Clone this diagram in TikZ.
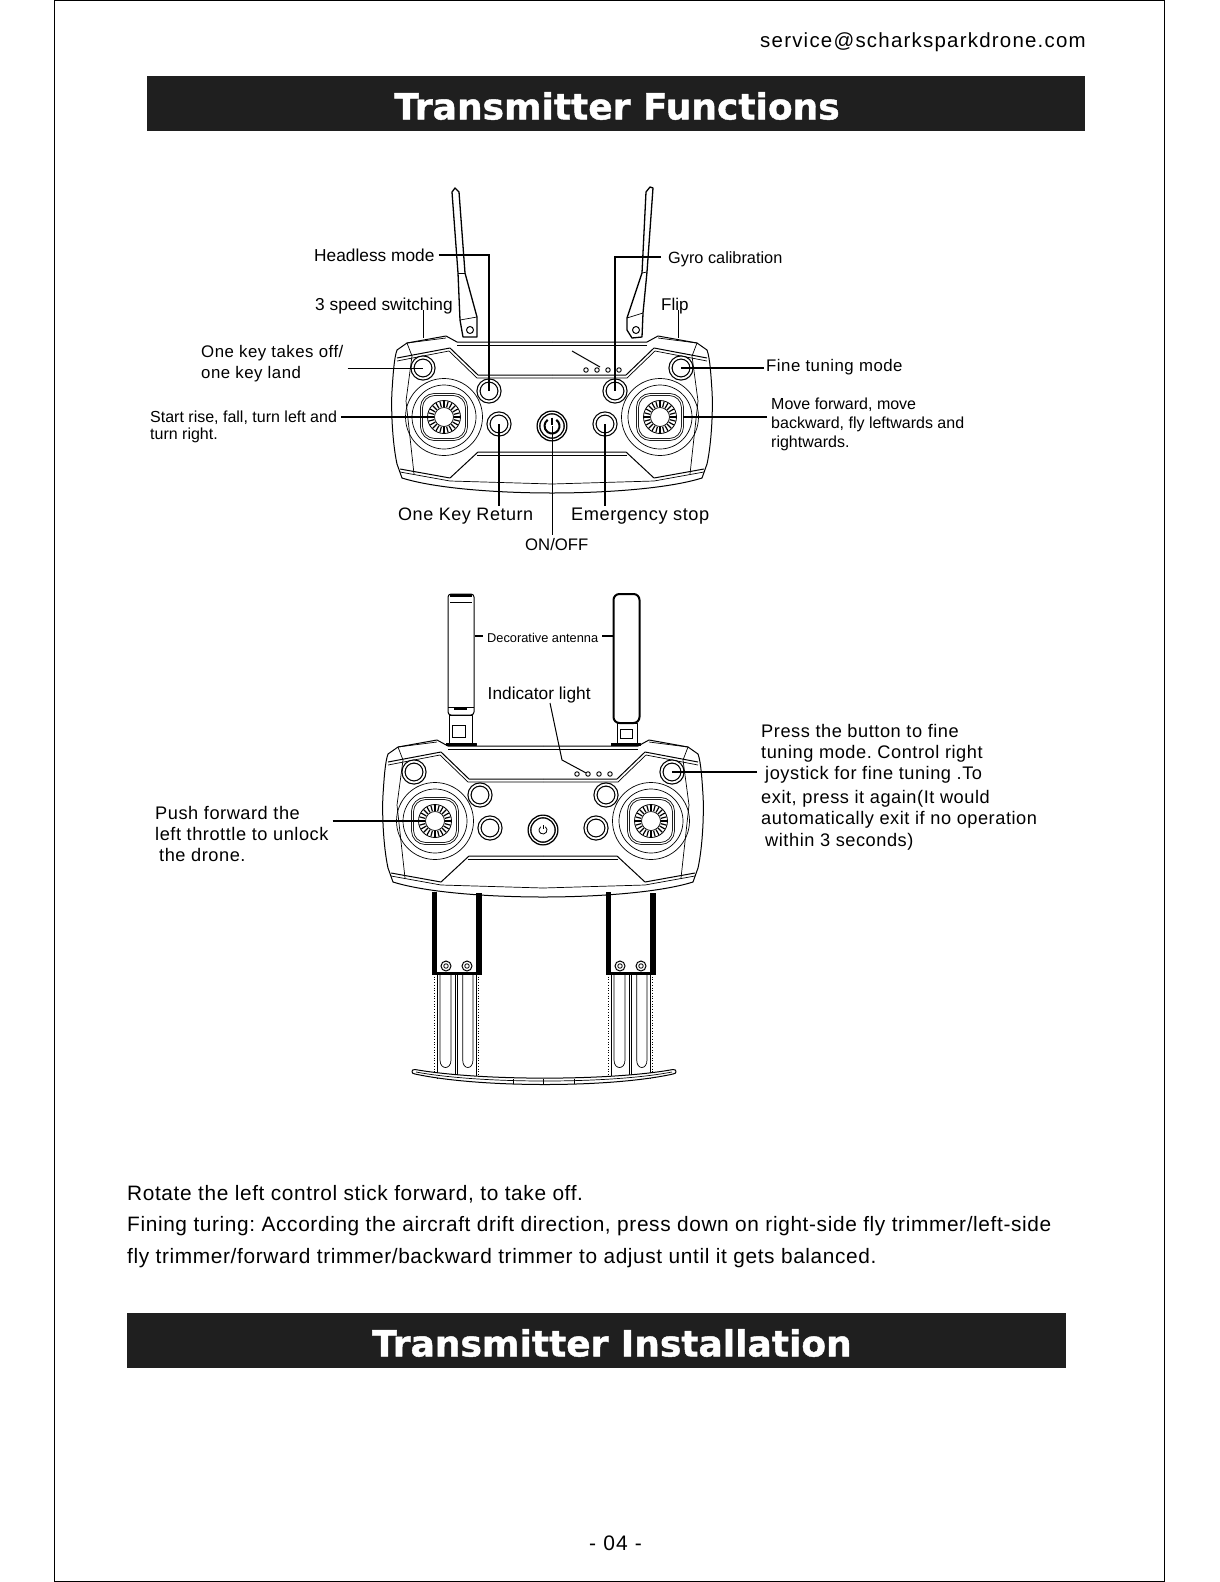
\documentclass[tikz,border=0pt]{standalone}
\usepackage{fontspec}
\setmainfont{Liberation Sans}
\newfontfamily\titlefont[FakeBold=1.2]{DejaVu Sans Bold}
\newfontfamily\wfont[LetterSpace=3]{Liberation Sans}
\newfontfamily\wwfont[LetterSpace=6]{Liberation Sans}
\tikzset{
    shell/.style={line width=1pt, line join=round},
    thinline/.style={line width=0.7pt},
    lead/.style={line width=1.6pt},
    thinlead/.style={line width=0.8pt},
    titlebar/.style={fill=black!88, minimum height=55pt},
    titletext/.style={text=white, font=\titlefont\fontsize{36}{40}\selectfont},
    lbl/.style={anchor=west, inner sep=0pt, inner xsep=4pt},
    oneline/.style={lbl, text height=12pt, text depth=0pt, inner ysep=3pt},
    mline/.style={lbl, align=left},
    txbtn/.style={circle, draw, inner sep=0pt, minimum size=21pt, line width=1.2pt, double, double distance=1.8pt},
    pwrbtn/.style={circle, draw, inner sep=0pt, minimum size=27pt, line width=1.4pt, double, double distance=1.2pt},
    led/.style={circle, draw, inner sep=0pt, minimum size=4.5pt, line width=0.9pt},
    ring/.style={circle, draw, inner sep=0pt, line width=0.7pt},
    stickbox/.style={draw, inner sep=0pt, minimum size=45pt, rounded corners=13pt, line width=0.8pt, double, double distance=1.2pt},
    gearhub/.style={circle, draw, inner sep=0pt, minimum size=33pt, line width=0.8pt},
}
\begin{document}
\frenchspacing
\begin{tikzpicture}[x=1pt, y=-1pt]
    \useasboundingbox (0,0) rectangle (1219,1582);
    \fill[white] (0,0) rectangle (1219,1582);
    \draw[line width=1pt] (54,0.5) -- (54,1581) -- (1164,1581) -- (1164,0.5) -- cycle;

    % Header and title bars
    \node[lbl, font=\wwfont\fontsize{20.45}{24}\selectfont] (mail) at (756,42) {service@scharksparkdrone.com};
    \node[titlebar, minimum width=938pt] (bartop) at (616,103.5) {};
    \node[titletext] (titletop) at (617,106) {Transmitter Functions};
    \node[titlebar, minimum width=939pt] (barlow) at (596.5,1340) {};
    \node[titletext] (titlelow) at (612,1343) {Transmitter Installation};

    % Both transmitter bodies
    \foreach \cx/\cy/\n/\pr/\pw in {552/426/a/7.5/2,543/830/b/4/0.8} {
        \begin{scope}[shift={(\cx,\cy)}]
            \foreach \s/\d in {1/l,-1/r} {
                \begin{scope}[xscale=\s]
                    % Shell
                    \draw[shell] (0,67) .. controls (-50,67) and (-115,63) .. (-150,52) -- (-155,38) .. controls (-160,15) and (-161,-20) .. (-160,-35) .. controls (-159,-50) and (-158,-68) .. (-155,-76) -- (-145,-83) -- (-106,-90) -- (-95,-84) -- (0,-84);
                    \draw[thinline] (-95,-81) -- (0,-81);
                    \draw[thinline] (-145,-83) -- (-106,-88);
                    \draw[thinline] (-145,-83) -- (-140,-70) -- (-146,-25) -- (-138,48);
                    % Face plate
                    \draw[shell] (-155,-68) -- (-102,-78) -- (-74,-51) -- (0,-51);
                    \draw[thinline] (-155,-65) -- (-103,-75) -- (-75,-48) -- (0,-48);
                    \draw[shell] (-152,43) -- (-102,52) -- (-74,26) -- (0,26);
                    \draw[thinline] (-152,46) -- (-102,55) -- (0,58);
                    \draw[thinline] (-75,29) -- (0,29);
                    % Stick
                    \node[ring, minimum size=77pt] (\n outer\d) at (-108,-9) {};
                    \node[ring, minimum size=64pt] (\n inner\d) at (-108,-9) {};
                    \node[stickbox, fill=white] (\n stick\d) at (-108,-9) {};
                    \node[gearhub] (\n gear\d) at (-108,-9) {};
                    \node[ring, minimum size=19pt] (\n hub\d) at (-108,-9) {};
                    \foreach \a in {0,15,...,345} {
                        \draw[line width=1.2pt] (-108,-9) ++(\a:10) -- ++(\a:6);
                    }
                    % Buttons
                    \node[txbtn] (\n corner\d) at (-129,-58) {};
                    \node[txbtn] (\n upper\d) at (-63,-35) {};
                    \node[txbtn] (\n lower\d) at (-53,-2) {};
                \end{scope}
            }
            \coordinate (\n trigl) at (-129,-88);
            \coordinate (\n trigr) at (126,-88);
            \foreach \i/\x in {1/34,2/45,3/56,4/67} {
                \node[led] (\n led\i) at (\x,-56) {};
            }
            % Power button
            \node[pwrbtn] (\n power) at (0,0) {};
            \draw[line width=\pw pt] ([shift={(-55:\pr)}]\n power.center) arc[start angle=-55, end angle=235, radius=\pr];
            \draw[line width=\pw pt] (0,-\pr-1) -- (0,-1);
        \end{scope}
    }
    \draw[line width=1pt] (572,351) -- (600,367);

    % Folded out antennas
    \draw[shell, line width=1.3pt] (463,337) -- (460,320) -- (458,273) -- (452,192) -- (455,188) -- (459,192) -- (465,273) -- (477,317) -- (477,337) -- cycle;
    \draw[thinline] (458,273) -- (465,273);
    \draw[thinline] (460,320) -- (477,317);
    \node[ring, minimum size=7pt, line width=1pt] (screwl) at (470,330) {};
    \draw[shell, line width=1.3pt] (632,338) -- (627,330) -- (627,318) -- (642,273) -- (646,192) -- (650,187) -- (653,188) -- (647,272) -- (643,313) -- (642,337) -- cycle;
    \draw[thinline] (642,273) -- (647,272);
    \draw[thinline] (627,318) -- (643,313);
    \node[ring, minimum size=7pt, line width=1pt] (screwr) at (636,330) {};

    % Labels of the upper picture
    \node[oneline, font=\fontsize{17.3}{20}\selectfont] (headless) at (310,255) {Headless mode};
    \node[oneline, font=\fontsize{16.3}{20}\selectfont, inner xsep=7pt] (gyro) at (661,257) {Gyro calibration};
    \node[oneline, font=\fontsize{17.3}{20}\selectfont, inner sep=0pt] (speed) at (315,304) {3 speed switching};
    \node[oneline, font=\fontsize{17}{20}\selectfont, inner sep=0pt] (flip) at (661,304) {Flip};
    \node[mline, font=\wfont\fontsize{16.8}{20.7}\selectfont] (takeoff) at (197,363.5) {One key takes off/\\one key land};
    \node[mline, font=\fontsize{16}{16.7}\selectfont] (startrise) at (146,427) {Start rise, fall, turn left and\\turn right.};
    \node[oneline, font=\wfont\fontsize{16.8}{20}\selectfont, inner xsep=2pt] (fine) at (764,365) {Fine tuning mode};
    \node[mline, font=\fontsize{16}{19}\selectfont] (moveon) at (767,424.5) {Move forward, move\\backward, fly leftwards and\\rightwards.};
    \node[oneline, font=\wfont\fontsize{18}{20}\selectfont, inner ysep=2pt, inner xsep=0pt] (goback) at (398,514) {One Key Return};
    \node[oneline, font=\wfont\fontsize{18.2}{20}\selectfont, inner ysep=2pt, inner xsep=0pt] (estop) at (571,514) {Emergency stop};
    \node[oneline, font=\fontsize{16.7}{20}\selectfont, inner ysep=3pt, inner xsep=0pt] (onoff) at (525,544) {ON/OFF};

    % Connections of the upper picture
    \draw[lead] (headless.east) -| (aupperl.center);
    \draw[lead] (gyro.west) -| (aupperr.center);
    \draw[thinlead] (speed.south -| atrigl) -- (atrigl);
    \draw[thinlead] (flip.south -| atrigr) -- (atrigr);
    \draw[thinlead] (takeoff.east |- acornerl.center) -- (acornerl.center);
    \draw[lead] (startrise.east |- agearl.west) -- (agearl.west);
    \draw[lead] (fine.west |- acornerr.center) -- (acornerr.center);
    \draw[lead] (moveon.west |- astickr.east) -- (astickr.east);
    \draw[lead] (alowerl.center) -- (alowerl.center |- goback.north);
    \draw[lead] (alowerr.center) -- (alowerr.center |- estop.north);
    \draw[thinlead] (apower.center) -- (apower.center |- onoff.north);

    % Decorative antennas
    \node[draw, line width=1pt, rounded corners=3pt, inner sep=0pt, minimum width=26pt, minimum height=121pt] (bantl) at (461,654.5) {};
    \fill (450,594) rectangle (472,596.5);
    \draw[thinline] (450,602) -- (472,602);
    \draw[thinline] (448,707) -- (474,707);
    \fill (454,707) rectangle (467,709.5);
    \draw[shell] (449,715) rectangle (472,743);
    \draw[thinline] (452,725) rectangle (465,737);
    \draw[shell, fill=black] (446,743) rectangle (476,745.5);
    \node[draw, line width=2pt, rounded corners=6pt, inner sep=0pt, minimum width=26pt, minimum height=129pt] (bantr) at (626.5,658.5) {};
    \draw[shell] (617,723) rectangle (637,743);
    \draw[thinline] (620,729) rectangle (632,738);
    \draw[shell, fill=black] (611,743) rectangle (640,745.5);

    % Labels of the lower picture
    \node[oneline, font=\fontsize{12.8}{15}\selectfont] (deco) at (483,636) {Decorative antenna};
    \node[oneline, font=\fontsize{17.3}{20}\selectfont, inner sep=0pt] (indlight) at (487.5,693) {Indicator light};
    \coordinate (indtop) at (550,703);
    \node[mline, font=\wfont\fontsize{18.2}{21.3}\selectfont] (unlock) at (151,834) {Push forward the\\left throttle to unlock\\\hspace*{4pt}the drone.};
    \node[mline, font=\wfont\fontsize{18.2}{21.3}\selectfont] (pressbtn) at (757,787) {Press the button to fine\\tuning mode. Control right\\\hspace*{4pt}joystick for fine tuning .To\\[2.5pt]exit, press it again(It would\\automatically exit if no operation\\\hspace*{4pt}within 3 seconds)};

    % Connections of the lower picture
    \draw[lead] (bantl.east |- deco.west) -- (deco.west);
    \draw[lead] (deco.east) -- (bantr.west |- deco.east);
    \draw[thinlead, line width=1pt] (indtop) -- (562,760) -- (bled2);
    \draw[lead] (unlock.east |- bgearl.west) -- (bgearl.west);
    \draw[lead] (pressbtn.west |- bcornerr.center) -- (bcornerr.center);

    % Telescopic arms
    \foreach \ax in {432,606} {
        \begin{scope}[shift={(\ax,0)}]
            \fill (0,892) rectangle (4.5,974);
            \fill (44,893) rectangle (50,974);
            \fill (0,971.5) rectangle (50,974.5);
            \foreach \i/\x in {1/14,2/35} {
                \node[ring, minimum size=10pt, line width=1pt] (screw\ax\i) at (\x,966) {};
                \node[ring, minimum size=4.5pt, line width=0.8pt] (pin\ax\i) at (\x,966) {};
            }
            \foreach \x in {5.7,23,25.7,44} {
                \draw[thinline] (\x,974) -- (\x,1079);
            }
            \draw[thinline, dotted, line width=1pt] (2.5,974) -- (2.5,1075);
            \draw[thinline, dotted, line width=1pt] (46.3,974) -- (46.3,1077);
            \draw[thinline] (8,974) -- (8,1060) .. controls (8,1070) and (19,1070) .. (19,1060) -- (19,974);
            \draw[thinline] (30.7,974) -- (30.7,1060) .. controls (30.7,1070) and (41,1070) .. (41,1060) -- (41,974);
        \end{scope}
    }

    % Foot of the holder
    \draw[shell, fill=white] (415,1069.5) .. controls (480,1081) and (610,1081) .. (673,1069.5) .. controls (677,1069) and (677,1074) .. (673,1074) .. controls (610,1088) and (480,1088) .. (415,1074) .. controls (411,1074) and (411,1069) .. (415,1069.5) -- cycle;
    \draw[thinline] (416,1072) .. controls (480,1084) and (610,1084) .. (672,1072);
    \foreach \x in {513,543,574} {
        \draw[thinline] (\x,1079) -- (\x,1084);
    }

    % Body text and page number
    \node[lbl, inner xsep=0pt, font=\wfont\fontsize{20.85}{31.8}\selectfont, align=left] (bodytext) at (127,1226.5) {Rotate the left control stick forward, to take off.\\Fining turing: According the aircraft drift direction, press down on right-side fly trimmer/left-side\\fly trimmer/forward trimmer/backward trimmer to adjust until it gets balanced.};
    \node[lbl, inner xsep=0pt, font=\wwfont\fontsize{21}{24}\selectfont] (pageno) at (589,1543) {- 04 -};
\end{tikzpicture}
\end{document}
